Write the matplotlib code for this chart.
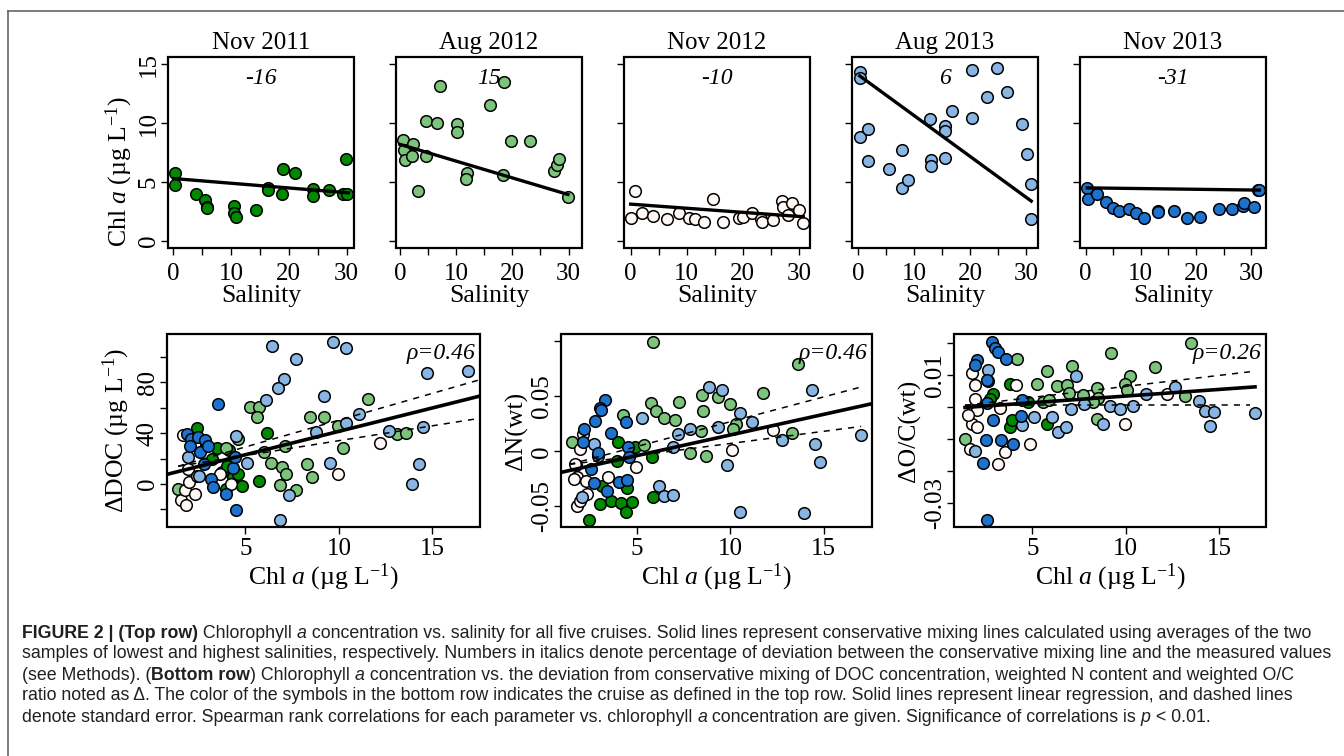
import matplotlib
matplotlib.use('Agg')
import matplotlib.pyplot as plt
from matplotlib.lines import Line2D
from matplotlib.patches import Rectangle

plt.rcParams['font.family'] = 'Liberation Serif'
plt.rcParams['mathtext.fontset'] = 'custom'
plt.rcParams['mathtext.rm'] = 'Liberation Serif'
plt.rcParams['mathtext.it'] = 'Liberation Serif:italic'
plt.rcParams['axes.unicode_minus'] = False

# ---- top row: chl a vs salinity, one panel per cruise ----
cruises = ['Nov 2011', 'Aug 2012', 'Nov 2012', 'Aug 2013', 'Nov 2013']
cruise_colors = ['#008a00', '#7cc47c', '#fff8f5', '#88b5e3', '#1c72cc']
deviation = ['-16', '15', '-10', '6', '-31']

sal_nov11 = [0.3, 0.3, 3.9, 5.6, 5.9, 5.8, 10.6, 10.6, 10.8, 14.3, 16.4, 16.4, 19.0, 21.1, 18.9,
             24.2, 24.2, 26.9, 29.3, 29.9, 30.1]
chl_nov11 = [5.77, 4.78, 4.02, 3.5, 2.9, 2.76, 2.96, 2.39, 2.05, 2.6, 4.5, 4.3, 6.14, 5.8, 3.94,
             4.4, 3.83, 4.3, 4.0, 6.98, 4.0]
sal_aug12 = [0.5, 0.7, 0.9, 2.1, 2.4, 3.2, 4.6, 4.6, 6.5, 7.1, 10.2, 10.2, 12.0, 11.7, 16.0, 18.5,
             18.3, 19.8, 23.1, 27.4, 27.9, 28.3, 29.9]
chl_aug12 = [8.58, 7.68, 6.9, 7.18, 8.25, 4.22, 10.2, 7.18, 9.99, 13.17, 9.94, 9.23, 5.8, 5.29,
             11.57, 13.45, 5.63, 8.44, 8.47, 5.94, 6.42, 6.92, 3.69]
sal_nov12 = [0.05, 0.8, 1.96, 4.04, 6.4, 8.6, 10.4, 11.5, 13.1, 14.7, 16.5, 19.4, 20.1, 21.7, 23.2,
             23.5, 25.4, 27.0, 27.2, 28.1, 28.7, 30.1, 30.7]
chl_nov12 = [1.91, 4.25, 2.34, 2.11, 1.86, 2.34, 1.91, 1.83, 1.63, 3.52, 1.63, 1.91, 2.05, 2.34,
             1.86, 1.63, 1.77, 3.38, 2.84, 2.2, 3.24, 2.62, 1.49]
sal_aug13 = [0.3, 0.3, 0.4, 1.7, 1.7, 5.5, 7.9, 7.9, 8.9, 12.8, 13.1, 13.1, 15.5, 15.5, 15.5, 16.8,
             20.4, 20.4, 23.0, 24.7, 26.6, 29.2, 30.1, 30.8, 30.8]
chl_aug13 = [14.3, 13.85, 8.8, 9.5, 6.8, 6.08, 7.74, 4.45, 5.15, 10.36, 6.84, 6.36, 9.71, 9.29,
             7.06, 11.06, 14.49, 10.41, 12.19, 14.66, 12.67, 9.94, 7.35, 4.87, 1.86]
sal_nov13 = [0.3, 0.5, 2.1, 3.7, 5.0, 6.0, 7.9, 9.1, 10.5, 13.1, 13.1, 16.0, 18.3, 20.7, 24.1,
             26.5, 28.5, 28.7, 30.6, 31.3, 31.5]
chl_nov13 = [4.5, 3.55, 4.02, 3.32, 2.81, 2.56, 2.67, 2.39, 1.91, 2.56, 2.42, 2.56, 1.91, 2.05,
             2.67, 2.67, 2.96, 3.24, 2.84, 4.36, 4.31]

# conservative mixing lines (salinity ends, chl ends)
mix_sal = [[0.1, 30.3], [0.0, 29.9], [0.0, 30.8], [0.3, 30.9], [0.3, 31.5]]
mix_chl = [[5.29, 4.08], [8.19, 3.94], [3.12, 2.05], [14.0, 3.38], [4.5, 4.31]]
top_xlim = [(-0.87, 31.27), (-0.71, 32.4), (-1.19, 32.0), (-1.07, 32.1), (-1.03, 32.7)]

# ---- bottom row: deviations vs chl a, (chl, value) per cruise ----
doc_nov11 = [(2.38, 44.5), (6.13, 40.3), (4.79, -1.6), (5.71, 2.1), (3.45, 28.7), (4.13, 26.6),
             (3.98, -3.7), (4.34, 5.5), (4.6, 8.2), (3.77, 9.2), (2.9, 30), (3.2, 20), (4.0, 14)]
doc_aug12 = [(5.23, 60.3), (5.73, 60.3), (5.59, 52.4), (8.45, 52.4), (9.2, 52.4), (11.57, 66.8),
             (9.96, 45.5), (13.1, 39.7), (13.57, 40.3), (7.1, 29.7), (10.2, 28.4), (6.0, 25.3),
             (6.34, 16.6), (6.96, 13.4), (7.16, 7.6), (8.27, 15.5), (8.57, 5.5), (6.84, -1.05),
             (7.73, -5), (4.6, 35.8), (1.4, -3.7), (3.95, 28.7)]
doc_nov12 = [(1.66, 38.4), (1.57, -12.9), (1.8, -16.8), (1.75, -4.5), (2.0, 1.6), (2.29, -7.6),
             (4.2, 0.3), (9.96, 8.2), (12.2, 32.4), (3.63, 8.2), (1.9, 12), (2.4, 6)]
doc_aug13 = [(6.43, 108.7), (9.7, 112), (10.4, 107.4), (7.73, 98.4), (7.05, 82.4), (6.75, 75.3),
             (6.09, 66), (9.2, 69.2), (14.7, 87.1), (16.9, 89.2), (8.75, 41.1), (10.4, 48.2),
             (11.1, 55), (12.68, 41.6), (14.5, 45), (4.48, 37.6), (5.1, 16.6), (9.5, 16.8),
             (14.3, 16.1), (13.9, 0.3), (6.84, -28.2), (7.34, -8.4), (2.5, 6.05), (1.93, 21.3)]
doc_nov13 = [(3.54, 63.4), (1.88, 39), (2.1, 35.8), (2.46, 37.1), (2.82, 35), (2.05, 30),
             (2.59, 25.3), (3.0, 29.7), (2.79, 16), (3.14, 3.7), (3.27, -2.4), (3.98, -8.2),
             (4.48, -20.3), (4.34, 12.6), (4.43, 21.3)]

n_nov11 = [(3.99, 0.0082), (3.94, -0.0085), (4.47, -0.033), (3.05, -0.0482), (3.63, -0.0452),
           (4.14, -0.0467), (4.73, -0.0458), (4.43, -0.0552), (2.48, -0.0628), (5.85, -0.0415),
           (5.8, -0.0049), (4.91, 0.0043), (3.14, -0.0314)]
n_aug12 = [(5.85, 0.0997), (13.6, 0.0793), (11.75, 0.0531), (8.52, 0.051), (9.36, 0.0494),
           (10.0, 0.0427), (5.76, 0.0439), (7.27, 0.0448), (6.03, 0.0366), (6.46, 0.0302),
           (7.05, 0.0281), (8.56, 0.0363), (10.3, 0.0244), (10.16, 0.0204), (8.43, 0.0183),
           (13.33, 0.0165), (7.84, -0.0018), (8.69, -0.004), (5.39, 0.0061), (1.54, 0.0082),
           (4.29, 0.0326), (1.77, -0.0122)]
n_nov12 = [(2.15, 0.0159), (1.98, 0.0021), (1.71, -0.0116), (1.8, -0.0238), (1.66, -0.0253),
           (2.3, -0.0274), (1.8, -0.0497), (1.98, -0.0451), (2.37, -0.039), (3.49, -0.0238),
           (4.96, -0.0146), (10.1, 0.0012), (12.3, 0.0195)]
n_aug13 = [(8.88, 0.0586), (9.59, 0.0561), (14.38, 0.0555), (10.54, 0.0348), (11.18, 0.0265),
           (9.36, 0.022), (7.85, 0.0204), (7.22, 0.0153), (6.96, 0.0043), (12.76, 0.0104),
           (14.56, 0.0067), (14.8, -0.0101), (16.97, 0.0149), (9.84, -0.0122), (6.21, -0.032),
           (6.46, -0.041), (6.92, -0.04), (10.5, -0.0552), (13.96, -0.0558), (5.27, 0.0302),
           (2.74, 0.0067), (2.07, -0.042), (2.95, -0.004)]
n_nov13 = [(3.31, 0.0464), (3.04, 0.0397), (3.1, 0.0372), (2.78, 0.0271), (2.21, 0.0204),
           (3.63, 0.0165), (4.43, 0.0265), (2.12, 0.0082), (4.56, 0.0037), (4.61, -0.0049),
           (2.92, -0.0018), (2.55, -0.0162), (4.08, -0.0278), (4.47, -0.0262), (2.73, -0.029),
           (3.4, -0.0366)]

oc_nov11 = [(3.8, 0.0073), (2.91, 0.0042), (2.73, 0.0026), (3.8, -0.0063), (3.89, -0.0042),
            (4.79, 0.0016), (5.77, -0.0052)]
oc_aug12 = [(13.5, 0.0199), (9.21, 0.0168), (4.2, 0.0149), (11.57, 0.0126), (7.1, 0.0129),
            (5.8, 0.0112), (10.23, 0.0096), (9.96, 0.0073), (10.05, 0.0054), (5.27, 0.0073),
            (6.3, 0.0065), (6.88, 0.0068), (6.98, 0.0044), (7.7, 0.0037), (8.45, 0.006),
            (8.54, 0.0029), (8.27, 0.0016), (5.59, 0.0016), (5.91, 0.0021), (13.18, 0.0034),
            (8.48, -0.0037), (1.39, -0.0099)]
oc_nov12 = [(1.75, 0.0105), (1.93, 0.0068), (1.93, 0.0026), (2.02, -0.001), (1.75, -0.0052),
            (2.02, -0.0063), (1.57, -0.0026), (1.66, -0.0131), (3.27, -0.0002), (4.13, 0.0068),
            (3.54, -0.0141), (3.18, -0.0178), (4.88, -0.0115), (9.96, -0.0054), (12.23, 0.004)]
oc_aug13 = [(2.6, 0.0115), (2.64, 0.0082), (7.34, 0.0096), (7.05, -0.0005), (6.07, -0.0031),
            (5.09, -0.0031), (4.43, -0.0055), (6.39, -0.0079), (6.79, -0.0063), (8.77, -0.0054),
            (7.77, 0.0008), (9.16, 0.0002), (9.7, -0.0007), (10.4, 0.0003), (11.1, 0.0042),
            (12.64, 0.0061), (13.95, 0.0019), (14.25, -0.0014), (14.75, -0.0016),
            (14.52, -0.0058), (16.93, -0.0019), (1.93, -0.0138)]
oc_nov13 = [(2.02, 0.0147), (1.93, 0.0131), (2.82, 0.0204), (3.0, 0.0185), (3.18, 0.0171),
            (3.57, 0.0149), (2.59, 0.0084), (2.59, 0.0013), (2.91, -0.0042), (2.52, -0.0103),
            (3.3, -0.0103), (3.98, -0.0115), (2.34, -0.0176), (2.55, -0.0354), (4.43, 0.0021),
            (4.38, -0.0028)]

# regression (solid) and standard error (dashed) lines: [(x0, y0), (x1, y1)]
doc_fit = [(0.8, 7.6), (17.52, 69.2)]
doc_upper = [(1.4, 14.0), (17.46, 81.8)]
doc_lower = [(1.4, 14.0), (17.46, 51.6)]
n_fit = [(0.96, -0.0192), (17.58, 0.0433)]
n_upper = [(1.4, -0.012), (17.0, 0.0585)]
n_lower = [(1.4, -0.012), (17.0, 0.0226)]
oc_fit = [(1.39, -0.00016), (16.93, 0.00628)]
oc_upper = [(1.39, 0.0005), (16.66, 0.011)]
oc_lower = [(1.39, 0.0005), (16.66, 0.0005)]
rho = ['ρ=0.46', 'ρ=0.46', 'ρ=0.26']

W, H = 1344, 756
fig = plt.figure(figsize=(W / 100, H / 100), dpi=100)

def frac(left, top, right, bottom):
    return [left / W, 1 - bottom / H, (right - left) / W, (bottom - top) / H]

def style(ax):
    for s in ax.spines.values():
        s.set_visible(False)
    ax.add_patch(Rectangle((0, 0), 1, 1, transform=ax.transAxes, fill=False, lw=1.6,
                           ec='black', zorder=5, clip_on=False))
    ax.tick_params(direction='out', length=5, width=1, labelsize=18)
    ax.tick_params(axis='y', pad=1)

chl_label = r'Chl $\mathit{a}$ (µg L$^{\mathrm{-1}}$)'
top_lefts = [168, 396, 624, 852, 1080]
top_sal = [sal_nov11, sal_aug12, sal_nov12, sal_aug13, sal_nov13]
top_chl = [chl_nov11, chl_aug12, chl_nov12, chl_aug13, chl_nov13]

for i in range(5):
    ax = fig.add_axes(frac(top_lefts[i], 57, top_lefts[i] + 186, 248))
    style(ax)
    ax.tick_params(axis='x', pad=6)
    ax.scatter(top_sal[i], top_chl[i], s=70, c=cruise_colors[i], edgecolors='black',
               linewidths=1.1, zorder=3)
    ax.plot(mix_sal[i], mix_chl[i], color='black', lw=2.4, zorder=4)
    ax.set_xlim(top_xlim[i])
    ax.set_ylim(-0.6, 15.6)
    ax.set_xticks([0, 5, 10, 15, 20, 25, 30])
    ax.set_xticklabels(['0', '', '10', '', '20', '', '30'])
    ax.set_yticks([0, 5, 10, 15])
    if i == 0:
        ax.set_yticklabels(['0', '5', '10', '15'], rotation=90, va='center')
        ax.set_ylabel(chl_label, fontsize=18.5, labelpad=2)
        ax.yaxis.label.set_y(0.40)
    else:
        ax.set_yticklabels([])
    ax.set_xlabel('Salinity', fontsize=18.5, labelpad=0)
    ax.set_title(cruises[i], fontsize=18, pad=6)
    ax.text(0.5, 0.89, deviation[i], transform=ax.transAxes, ha='center', va='center',
            fontsize=17, style='italic')

bottom_sets = [
    ([doc_nov11, doc_aug12, doc_nov12, doc_aug13, doc_nov13], doc_fit, doc_upper, doc_lower),
    ([n_nov11, n_aug12, n_nov12, n_aug13, n_nov13], n_fit, n_upper, n_lower),
    ([oc_nov11, oc_aug12, oc_nov12, oc_aug13, oc_nov13], oc_fit, oc_upper, oc_lower),
]
bottom_box = [(167, 480), (561, 872), (954, 1266)]
bottom_ylim = [(-33.9, 118.2), (-0.0689, 0.1067), (-0.0375, 0.0228)]
bottom_xlim = [(0.8, 17.55), (0.96, 17.58), (0.8, 17.52)]
bottom_yticks = [[-20, 0, 20, 40, 60, 80, 100], [-0.05, 0, 0.05, 0.1],
                 [-0.03, -0.02, -0.01, 0, 0.01, 0.02]]
bottom_yticklabels = [['', '0', '', '40', '', '80', ''], ['-0.05', '0', '0.05', ''],
                      ['-0.03', '', '', '', '0.01', '']]
bottom_ylabels = [r'ΔDOC (µg L$^{\mathrm{-1}}$)', 'ΔN(wt)', 'ΔO/C(wt)']
bottom_ylabelpad = [3, 2, 2]

for j in range(3):
    groups, fit, upper, lower = bottom_sets[j]
    ax = fig.add_axes(frac(bottom_box[j][0], 334, bottom_box[j][1], 527))
    style(ax)
    ax.tick_params(axis='x', pad=3)
    for k, pts in enumerate(groups):
        xs = [p[0] for p in pts]
        ys = [p[1] for p in pts]
        ax.scatter(xs, ys, s=70, c=cruise_colors[k], edgecolors='black', linewidths=1.1,
                   zorder=3)
    ax.plot([fit[0][0], fit[1][0]], [fit[0][1], fit[1][1]], color='black', lw=2.6, zorder=4)
    for ln in (upper, lower):
        ax.plot([ln[0][0], ln[1][0]], [ln[0][1], ln[1][1]], color='black', lw=1.1,
                ls=(0, (4, 4)), zorder=4)
    ax.set_xlim(bottom_xlim[j])
    ax.set_ylim(bottom_ylim[j])
    ax.set_xticks([5, 10, 15])
    ax.set_yticks(bottom_yticks[j])
    ax.set_yticklabels(bottom_yticklabels[j], rotation=90, va='center')
    ax.set_xlabel(chl_label, fontsize=18.5, labelpad=1)
    ax.set_ylabel(bottom_ylabels[j], fontsize=18.5, labelpad=bottom_ylabelpad[j])
    ax.text(0.985, 0.9, rho[j], transform=ax.transAxes, ha='right', va='center',
            fontsize=17, style='italic', zorder=6)

# frame lines of the figure panel
fig.add_artist(Line2D([8 / W, 1], [1 - 10.5 / H, 1 - 10.5 / H], color='#666666', lw=1.2))
fig.add_artist(Line2D([8 / W, 8 / W], [0, 1 - 10.5 / H], color='#666666', lw=1.2))

# caption with mixed bold / italic runs
renderer = fig.canvas.get_renderer()
cap_kw = dict(fontsize=12.75, family='Liberation Sans', color='#231f20', va='center')

def run_width(text, weight, st):
    t = fig.text(0, 0, text + '|', weight=weight, style=st, **cap_kw)
    w1 = t.get_window_extent(renderer).width
    t.set_text('|')
    w2 = t.get_window_extent(renderer).width
    t.remove()
    return w1 - w2

caption = [
    [('FIGURE 2 | (Top row)', 'bold', 'normal'), (' Chlorophyll ', 'normal', 'normal'),
     ('a', 'normal', 'italic'),
     (' concentration vs. salinity for all five cruises. Solid lines represent conservative '
      'mixing lines calculated using averages of the two', 'normal', 'normal')],
    [('samples of lowest and highest salinities, respectively. Numbers in italics denote '
      'percentage of deviation between the conservative mixing line and the measured values',
      'normal', 'normal')],
    [('(see Methods). (', 'normal', 'normal'), ('Bottom row', 'bold', 'normal'),
     (') Chlorophyll ', 'normal', 'normal'), ('a', 'normal', 'italic'),
     (' concentration vs. the deviation from conservative mixing of DOC concentration, '
      'weighted N content and weighted O/C', 'normal', 'normal')],
    [('ratio noted as Δ. The color of the symbols in the bottom row indicates the cruise as '
      'defined in the top row. Solid lines represent linear regression, and dashed lines',
      'normal', 'normal')],
    [('denote standard error. Spearman rank correlations for each parameter vs. chlorophyll ',
      'normal', 'normal'), ('a', 'normal', 'italic'),
     (' concentration are given. Significance of correlations is ', 'normal', 'normal'),
     ('p', 'normal', 'italic'), (' < 0.01.', 'normal', 'normal')],
]
line_y = [633, 654, 675, 696, 717]
for runs, yy in zip(caption, line_y):
    x = 22.0
    for text, weight, st in runs:
        fig.text(x / W, 1 - yy / H, text, weight=weight, style=st, **cap_kw)
        x += run_width(text, weight, st)

fig.savefig('out.png', dpi=100)
